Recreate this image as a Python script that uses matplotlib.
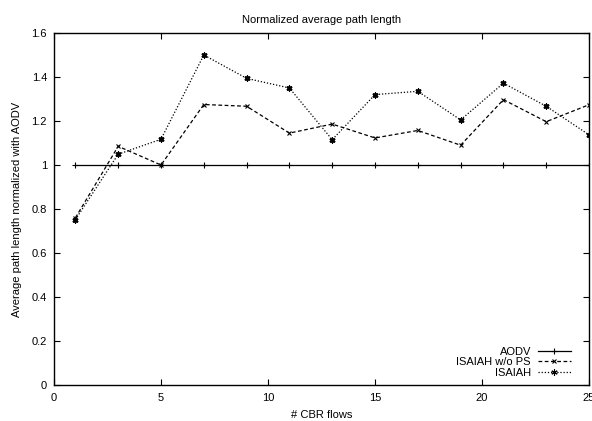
import matplotlib
matplotlib.use("Agg")
import matplotlib.pyplot as plt
from matplotlib.lines import Line2D

plt.rcParams['font.family'] = ['Liberation Sans', 'DejaVu Sans']
plt.rcParams['font.size'] = 8

flows = [1, 3, 5, 7, 9, 11, 13, 15, 17, 19, 21, 23, 25]
aodv = [1.0] * len(flows)
isaiah_wo_ps = [0.76, 1.085, 1.0, 1.275, 1.267, 1.145, 1.186, 1.123, 1.157, 1.09, 1.297, 1.197, 1.274]
isaiah = [0.752, 1.049, 1.117, 1.5, 1.394, 1.35, 1.115, 1.32, 1.335, 1.205, 1.372, 1.267, 1.137]

x_ticks = [0, 5, 10, 15, 20, 25]
y_ticks = [0, 0.2, 0.4, 0.6, 0.8, 1.0, 1.2, 1.4, 1.6]
y_tick_labels = ["0", "0.2", "0.4", "0.6", "0.8", "1", "1.2", "1.4", "1.6"]

fig = plt.figure(figsize=(5.92, 4.21), dpi=100)
ax = fig.add_axes([0.0912, 0.0855, 0.9038, 0.8361])

ax.plot(flows, aodv, color='black', lw=0.9, marker='+', ms=4, mew=0.8, label='AODV')
ax.plot(flows, isaiah_wo_ps, color='black', lw=0.9, ls=(0, (3, 2)), marker='x', ms=3.5, mew=0.8,
        label='ISAIAH w/o PS')
ax.plot(flows, isaiah, color='black', lw=0.9, ls=(0, (1, 1.5)), marker=(6, 2, 0), ms=4.5, mew=0.8,
        label='ISAIAH')
ax.plot(flows, isaiah, color='black', lw=0, marker='s', ms=2.6, mfc='none', mew=0.6)

ax.set_xlim(0, 25)
ax.set_ylim(0, 1.6)
ax.set_xticks(x_ticks)
ax.set_yticks(y_ticks)
ax.set_yticklabels(y_tick_labels)
ax.tick_params(direction='in', top=True, right=True, length=4, width=0.8, colors='black')
ax.tick_params(axis='x', pad=5.5)
ax.tick_params(axis='y', pad=5)
for s in ax.spines.values():
    s.set_linewidth(1.0)

ax.set_title("Normalized average path length", fontsize=8, pad=7.5)
ax.set_xlabel("# CBR flows", labelpad=5)
ax.set_ylabel("Average path length normalized with AODV", labelpad=7)

handles = [
    Line2D([], [], color='black', lw=0.9, marker='+', ms=4, mew=0.8),
    Line2D([], [], color='black', lw=0.9, ls=(0, (3, 2)), marker='x', ms=3.5, mew=0.8),
    Line2D([], [], color='black', lw=0.9, ls=(0, (1, 1.5)), marker=(6, 2, 0), ms=4.5, mew=0.8),
]
ax.legend(handles, ['AODV', 'ISAIAH w/o PS', 'ISAIAH'], loc='lower right', frameon=False,
          markerfirst=False, handlelength=3.0, handletextpad=0.6, labelspacing=0.05,
          borderaxespad=0.6, bbox_to_anchor=(0.987, -0.011), fontsize=8)

fig.savefig("out.png", dpi=100)
